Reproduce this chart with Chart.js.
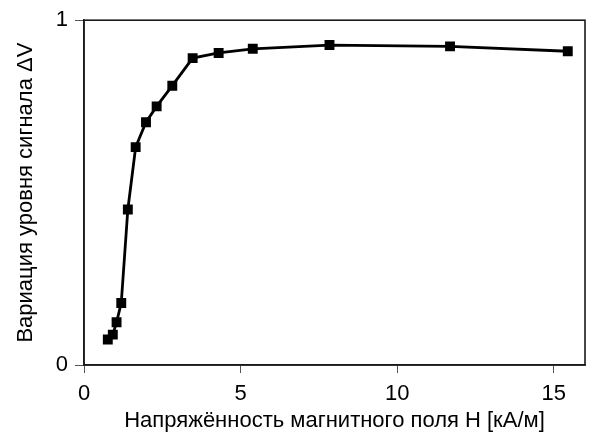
<!DOCTYPE html>
<html>
<head>
<meta charset="utf-8">
<script src="https://cdn.jsdelivr.net/npm/chart.js@4"></script>
<style>
html,body{margin:0;padding:0;background:#fff;}
#wrap{width:592px;height:438px;}
</style>
</head>
<body>
<div id="wrap"><canvas id="c" width="592" height="438"></canvas></div>
<script>
// Data
const fieldH = [0.76, 0.92, 1.04, 1.19, 1.40, 1.65, 1.98, 2.32, 2.82, 3.47, 4.30, 5.39, 7.84, 11.69, 15.45];
const signalDV = [0.074, 0.088, 0.124, 0.180, 0.451, 0.632, 0.704, 0.750, 0.810, 0.890, 0.905, 0.917, 0.928, 0.924, 0.910];
const xTickValues = [0, 5, 10, 15];
const yTickValues = [0, 1];
const xTitle = 'Напряжённость магнитного поля H [кА/м]';
const yTitle = 'Вариация уровня сигнала ΔV';

const FONT = '"Liberation Sans", Arial, Helvetica, sans-serif';

const frame = {
  id: 'frame',
  afterDatasetsDraw(chart) {
    const {ctx, chartArea: a} = chart;
    ctx.save();
    ctx.strokeStyle = '#1a1a1a';
    ctx.lineWidth = 1.6;
    ctx.strokeRect(a.left, a.top, a.right - a.left, a.bottom - a.top);
    ctx.restore();
  }
};

new Chart(document.getElementById('c'), {
  type: 'line',
  data: {
    datasets: [{
      data: fieldH.map((h, i) => ({x: h, y: signalDV[i]})),
      borderColor: '#000',
      backgroundColor: '#000',
      borderWidth: 2.8,
      pointStyle: 'rect',
      pointRadius: 7,
      pointBorderWidth: 0,
      pointBackgroundColor: '#000',
      tension: 0
    }]
  },
  options: {
    responsive: false,
    animation: false,
    devicePixelRatio: 1,
    layout: {padding: {top: 19, right: 2, left: 0, bottom: 0}},
    plugins: {legend: {display: false}, tooltip: {enabled: false}},
    scales: {
      x: {
        type: 'linear', min: 0, max: 16,
        afterBuildTicks: s => { s.ticks = xTickValues.map(v => ({value: v})); },
        afterFit: s => { s.height = 73; },
        grid: {drawOnChartArea: false, drawTicks: true, tickLength: 8, color: '#555', lineWidth: 1},
        border: {display: true, color: '#1a1a1a', width: 1.6},
        ticks: {color: '#000', font: {family: FONT, size: 22}, padding: 8, maxRotation: 0},
        title: {display: true, text: xTitle, color: '#000', font: {family: FONT, size: 22}, padding: {top: 0, bottom: 4}}
      },
      y: {
        type: 'linear', min: 0, max: 1,
        afterBuildTicks: s => { s.ticks = yTickValues.map(v => ({value: v})); },
        afterFit: s => { s.width = 84; },
        grid: {drawOnChartArea: false, drawTicks: true, tickLength: 9, color: '#555', lineWidth: 1},
        border: {display: true, color: '#1a1a1a', width: 1.6},
        ticks: {color: '#000', font: {family: FONT, size: 22}, padding: 7},
        title: {display: true, text: yTitle, color: '#000', font: {family: FONT, size: 22}, padding: {top: 13, bottom: 0}}
      }
    }
  },
  plugins: [frame]
});
</script>
</body>
</html>
